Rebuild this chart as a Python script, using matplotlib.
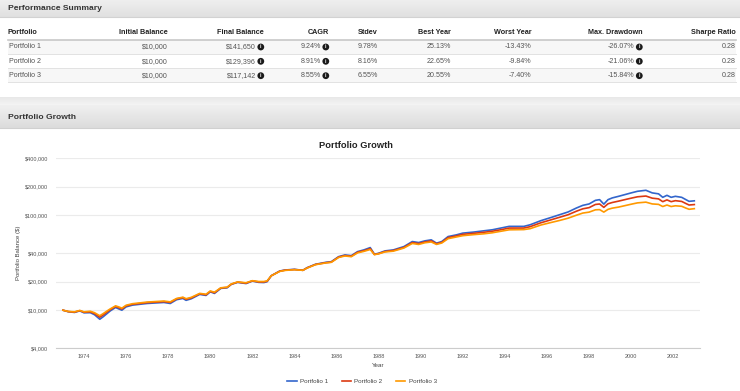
import numpy as np
import matplotlib
matplotlib.use("Agg")
import matplotlib.pyplot as plt
from matplotlib.lines import Line2D
from matplotlib.ticker import FixedLocator, NullLocator

plt.rcParams['font.family'] = ['Liberation Sans', 'DejaVu Sans']

# ---- summary table ----
columns = ["Portfolio", "Initial Balance", "Final Balance", "CAGR", "Stdev",
           "Best Year", "Worst Year", "Max. Drawdown", "Sharpe Ratio"]
portfolios = ["Portfolio 1", "Portfolio 2", "Portfolio 3"]
initial_balance = ["$10,000", "$10,000", "$10,000"]
final_balance = ["$141,650", "$129,396", "$117,142"]
cagr = ["9.24%", "8.91%", "8.55%"]
stdev = ["9.78%", "8.16%", "6.55%"]
best_year = ["25.13%", "22.65%", "20.55%"]
worst_year = ["-13.43%", "-9.84%", "-7.40%"]
max_drawdown = ["-26.07%", "-21.06%", "-15.84%"]
sharpe = ["0.28", "0.28", "0.28"]

# ---- growth series ----
years = [1973.00, 1973.25, 1973.55, 1973.80, 1974.00, 1974.30, 1974.50, 1974.75, 1974.90,
         1975.10, 1975.25, 1975.50, 1975.65, 1975.80, 1976.00, 1976.30, 1976.70, 1977.00,
         1977.50, 1977.80, 1978.10, 1978.40, 1978.70, 1978.85, 1979.10, 1979.50, 1979.80,
         1980.00, 1980.20, 1980.50, 1980.80, 1981.00, 1981.30, 1981.70, 1982.00, 1982.30,
         1982.55, 1982.70, 1982.90, 1983.30, 1983.55, 1984.00, 1984.40, 1984.60, 1985.00,
         1985.50, 1985.75, 1986.10, 1986.40, 1986.70, 1987.00, 1987.30, 1987.60, 1987.80,
         1988.00, 1988.30, 1988.70, 1989.20, 1989.60, 1989.90, 1990.20, 1990.50, 1990.75,
         1991.00, 1991.30, 1991.70, 1992.00, 1992.50, 1993.00, 1993.40, 1993.80, 1994.20,
         1994.90, 1995.20, 1995.70, 1996.20, 1996.60, 1997.00, 1997.40, 1997.70, 1998.00,
         1998.30, 1998.50, 1998.70, 1998.90, 1999.10, 1999.40, 1999.70, 2000.00, 2000.30,
         2000.70, 2001.00, 2001.30, 2001.50, 2001.70, 2001.90, 2002.10, 2002.40, 2002.60,
         2002.75, 2003.00]

portfolio1 = [10000, 9640, 9470, 9840, 9380, 9420, 8960, 8030, 8490,
              9230, 9840, 10680, 10320, 10000, 10840, 11300, 11570, 11770,
              11950, 12060, 11770, 12900, 13300, 12700, 13200, 14660, 14300,
              15620, 15020, 16960, 17200, 18700, 19640, 19070, 20250, 19640,
              19550, 19950, 23050, 25850, 26490, 26930, 26300, 28020, 30440,
              31960, 32400, 36630, 38180, 37520, 41370, 43120, 45610, 38820,
              39780, 42090, 43120, 46730, 52800, 51530, 53690, 55020, 50770,
              52800, 59580, 62140, 64770, 66370, 68500, 70200, 73170, 76260,
              76260, 79290, 87450, 94740, 101200, 108100, 119100, 126900, 131300,
              143300, 145800, 130700, 145800, 152000, 158000, 164700, 171700, 178500,
              182900, 171700, 167800, 154200, 161900, 154200, 158000, 154200, 145800,
              139900, 141650]

portfolio2 = [10000, 9670, 9550, 9890, 9520, 9610, 9230, 8430, 8870,
              9600, 10140, 10950, 10630, 10300, 11110, 11530, 11800, 12010,
              12190, 12300, 12060, 13160, 13570, 13020, 13460, 14880, 14510,
              15780, 15250, 17130, 17370, 18790, 19740, 19260, 20350, 19840,
              19840, 20150, 23050, 25720, 26360, 26800, 26300, 27880, 30290,
              31640, 32080, 36260, 37610, 36960, 40750, 42260, 44470, 38630,
              39380, 41460, 42470, 45800, 51480, 50240, 52350, 53640, 50010,
              51740, 58090, 60590, 62830, 64380, 66100, 67740, 70240, 73210,
              73210, 75720, 83080, 89530, 95130, 101100, 110200, 116700, 120100,
              129700, 131200, 120900, 131900, 136000, 140600, 145800, 151100, 156200,
              159100, 151100, 148500, 138800, 144900, 138800, 142200, 139600, 132700,
              128000, 129396]

portfolio3 = [10000, 9700, 9610, 9940, 9610, 9750, 9410, 8750, 9170,
              9830, 10330, 11110, 10840, 10500, 11270, 11700, 11970, 12180,
              12370, 12480, 12240, 13290, 13700, 13210, 13660, 15030, 14730,
              15930, 15470, 17210, 17460, 18890, 19840, 19450, 20450, 20030,
              20040, 20350, 23050, 25590, 26230, 26660, 26300, 27740, 30140,
              31480, 31910, 35900, 37230, 36580, 40130, 41610, 43560, 38430,
              39180, 41040, 41830, 45090, 50420, 49210, 51270, 52270, 49250,
              50950, 56600, 59030, 60880, 62390, 63710, 65290, 67680, 70160,
              70540, 72150, 78710, 83840, 88040, 92970, 100000, 105300, 107700,
              113900, 114500, 107800, 115200, 118600, 121700, 126000, 130500, 134800,
              137200, 131400, 130000, 123400, 127900, 123400, 125600, 124100, 118800,
              115400, 117142]

y_ticks = [4000, 10000, 20000, 40000, 100000, 200000, 400000]
x_ticks = list(range(1974, 2003, 2))
colors = ["#3366cc", "#dc3912", "#ff9900"]

W, H = 740, 391
fig = plt.figure(figsize=(W / 100, H / 100), dpi=100)

# background layer in pixel coords
bg = fig.add_axes([0, 0, 1, 1])
bg.set_xlim(0, W)
bg.set_ylim(H, 0)
bg.axis('off')


def band(y0, y1, top, bottom):
    c0 = np.array(matplotlib.colors.to_rgb(top))
    c1 = np.array(matplotlib.colors.to_rgb(bottom))
    t = np.linspace(0, 1, 32)[:, None]
    grad = (c0 * (1 - t) + c1 * t)[:, None, :]
    bg.imshow(grad, extent=(0, W, y1, y0), aspect='auto', interpolation='bilinear')


band(0, 17, "#efefef", "#e0e0e0")
bg.plot([0, W], [17, 17], color="#d2d2d2", lw=0.8)
band(97, 105, "#e8e8e8", "#f4f4f4")
band(105, 128, "#f0f0f0", "#dcdcdc")
bg.plot([0, W], [128, 128], color="#d0d0d0", lw=0.8)
bg.set_xlim(0, W)
bg.set_ylim(H, 0)

bg.text(8, 8.5, "Performance Summary", fontsize=6.1, fontweight='bold',
        color="#333333", va='center', ha='left')
bg.text(8, 117.5, "Portfolio Growth", fontsize=6.1, fontweight='bold',
        color="#333333", va='center', ha='left')

# table
col_right = [None, 167.5, 264, 329, 378, 451, 531.5, 642.5, 735.5]
has_icon = [False, False, True, True, False, False, False, True, False]
header_y = 32.5
row_y = [47, 61.3, 75.7]
row_lines = [54, 68.3, 82.3]

for i, y in enumerate(row_y):
    if i % 2 == 0:
        bg.add_patch(plt.Rectangle((8, y - 7), 728, 14, color="#f7f7f7", lw=0))
bg.plot([8, 736], [39.7, 39.7], color="#c8c8c8", lw=1.2)
for y in row_lines:
    bg.plot([8, 736], [y, y], color="#e2e2e2", lw=0.7)

for j, name in enumerate(columns):
    if j == 0:
        bg.text(8, header_y, name, fontsize=5.2, fontweight='bold', color="#222222",
                ha='left', va='center')
    else:
        bg.text(col_right[j], header_y, name, fontsize=5.2, fontweight='bold',
                color="#222222", ha='right', va='center')

table_cols = [portfolios, initial_balance, final_balance, cagr, stdev,
              best_year, worst_year, max_drawdown, sharpe]
for j, col in enumerate(table_cols):
    for i, val in enumerate(col):
        y = row_y[i]
        if j == 0:
            bg.text(9, y, val, fontsize=5.1, color="#555555", ha='left', va='center')
        elif has_icon[j]:
            bg.text(col_right[j] - 8, y, val, fontsize=5.1, color="#555555",
                    ha='right', va='center')
            bg.text(col_right[j] - 3.2, y, "i", fontsize=3.6, fontweight='bold',
                    color="white", ha='center', va='center',
                    bbox=dict(boxstyle='circle,pad=0.18', fc="#1a1a1a", ec='none'))
        else:
            bg.text(col_right[j], y, val, fontsize=5.1, color="#555555",
                    ha='right', va='center')

# ---- growth chart ----
left, right, top, bottom = 56, 700, 158, 348
ax = fig.add_axes([left / W, 1 - bottom / H, (right - left) / W, (bottom - top) / H])
ax.set_facecolor('none')
ax.set_yscale('log')
ax.set_ylim(4000, 400000)
ax.set_xlim(1972.67, 2003.27)

series = [portfolio1, portfolio2, portfolio3]
for k, vals in enumerate(series):
    ax.plot(years, vals, color=colors[k], lw=1.2, label=portfolios[k], zorder=3 + k)

ax.yaxis.set_major_locator(FixedLocator(y_ticks))
ax.yaxis.set_minor_locator(NullLocator())
ax.set_yticklabels(["${:,}".format(v) for v in y_ticks])
ax.set_xticks(x_ticks)
ax.set_xticklabels([str(v) for v in x_ticks])
ax.tick_params(axis='both', length=0, labelsize=4.0, labelcolor="#555555")
ax.tick_params(axis='y', pad=5.5)
ax.tick_params(axis='x', pad=4)
ax.grid(axis='y', color="#ebebeb", lw=0.8)
for s in ['top', 'right', 'left']:
    ax.spines[s].set_visible(False)
ax.spines['bottom'].set_color("#cccccc")
ax.spines['bottom'].set_linewidth(0.8)

ax.set_xlabel("Year", fontsize=4.5, color="#444444", labelpad=3)
ax.set_ylabel("Portfolio Balance ($)", fontsize=4.3, color="#444444", labelpad=3)

bg.text(356, 145, "Portfolio Growth", fontsize=6.7, fontweight='bold',
        color="#222222", ha='center', va='center')

handles = [Line2D([], [], color=c, lw=1.2) for c in colors]
fig.legend(handles, portfolios, loc='center', bbox_to_anchor=(362 / W, 1 - 381 / H),
           ncol=3, frameon=False, fontsize=4.5, handlelength=1.5,
           columnspacing=2.2, handletextpad=0.5, labelcolor="#444444")

fig.savefig("out.png", dpi=100)
